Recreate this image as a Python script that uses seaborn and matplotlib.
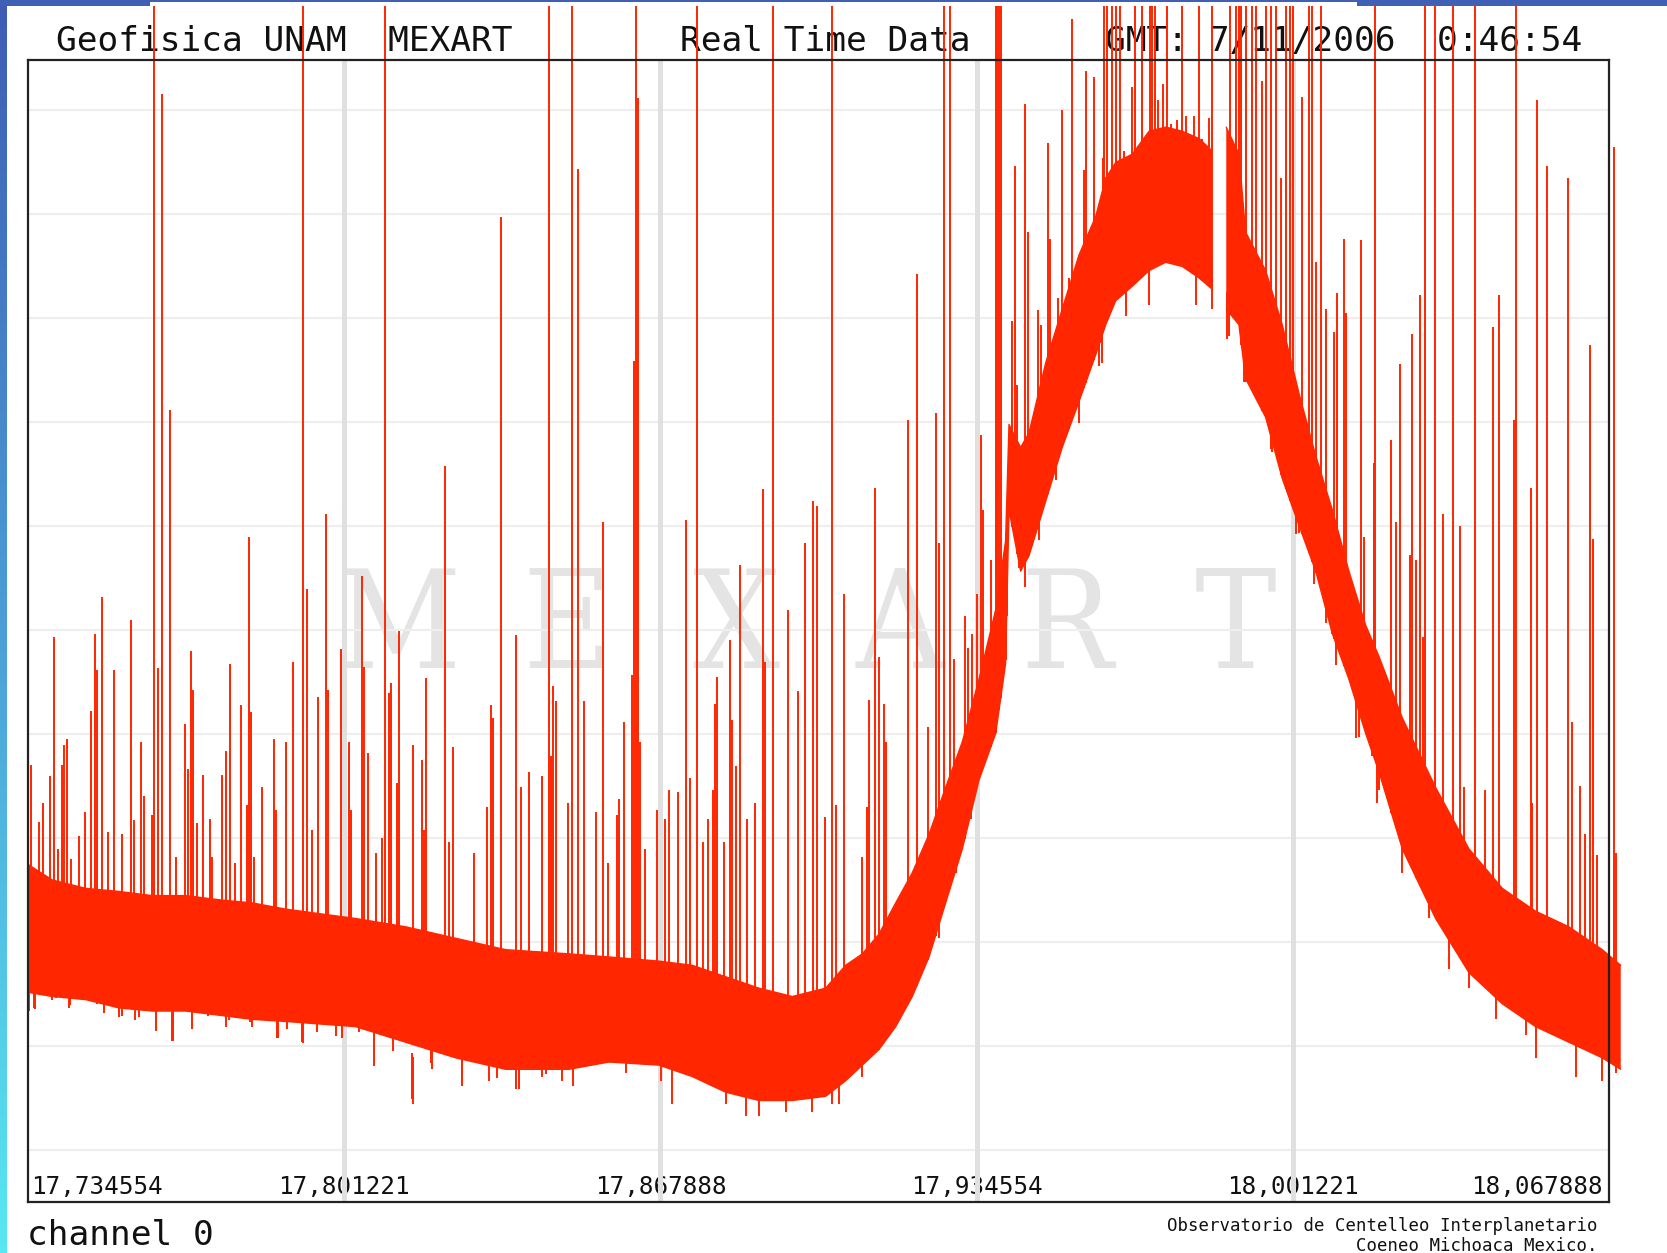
import numpy as np
import pandas as pd
import matplotlib
matplotlib.use("Agg")
import matplotlib.pyplot as plt
import seaborn as sns
from matplotlib.patches import Rectangle
from matplotlib.colors import LinearSegmentedColormap
from matplotlib.transforms import ScaledTranslation

# ---------------- data ----------------
# x in seconds from the start of the window (0 .. 1200 s); y in grid units
tick_seconds = [0, 240, 480, 720, 960, 1200]
tick_labels = ["17,734554", "17,801221", "17,867888", "17,934554", "18,001221", "18,067888"]
grid_levels = list(range(11))

env_s = [0, 18.5, 43.8, 69, 94.4, 119.7, 145, 170.2, 195.6, 248.7, 286.7, 324.6, 362.6,
         410.6, 441, 479, 504.2, 529.5, 554.8, 580.1, 605.4, 620.6, 633.3, 645.9, 658.6,
         671.2, 683.9, 696.5, 709.2, 721.8, 734.5, 742, 744.6, 753.4, 759.8, 772.4, 785,
         797.7, 810.4, 818, 825.6, 838.2, 850.9, 863.5, 876.1, 888.8, 898.9, 904, 909.5,
         919.1, 924.2, 939.4, 952, 964.7, 977.4, 990, 1002.6, 1015.3, 1025.4, 1043.1,
         1068.4, 1093.7, 1119, 1144.3, 1169.6, 1194.9, 1208.9]
env_hi = [2.75, 2.60, 2.52, 2.49, 2.45, 2.45, 2.41, 2.38, 2.32, 2.23, 2.15, 2.04, 1.93,
          1.89, 1.86, 1.82, 1.78, 1.67, 1.56, 1.48, 1.56, 1.78, 1.89, 2.08, 2.38,
          2.67, 3.04, 3.49, 3.93, 4.53, 5.20, 5.86, 6.98, 6.76, 6.90, 7.57, 8.09,
          8.61, 8.98, 9.35, 9.50, 9.58, 9.80, 9.84, 9.80, 9.73, 9.61, np.nan, 9.84,
          9.58, 8.83, 8.46, 7.94, 7.28, 6.68, 6.16, 5.57, 5.05, 4.75, 4.16,
          3.49, 2.90, 2.52, 2.30, 2.15, 1.93, 1.78]
env_lo = [1.52, 1.48, 1.45, 1.37, 1.34, 1.34, 1.30, 1.26, 1.24, 1.19, 1.04, 0.89, 0.78,
          0.78, 0.85, 0.82, 0.71, 0.56, 0.48, 0.48, 0.52, 0.67, 0.82, 0.97, 1.19,
          1.48, 1.86, 2.38, 2.90, 3.56, 4.01, 4.68, 6.16, 5.57, 5.72, 6.24, 6.76,
          7.20, 7.65, 7.94, 8.17, 8.31, 8.46, 8.54, 8.50, 8.39, 8.28, np.nan, 8.09,
          7.94, 7.42, 7.05, 6.46, 6.01, 5.57, 4.97, 4.53, 4.01, 3.64, 2.90,
          2.23, 1.71, 1.41, 1.19, 1.04, 0.89, 0.78]

spike_s = [2.0, 8.3, 11.4, 16.4, 19.5, 23.0, 25.6, 27.3, 29.3, 32.4, 38.7, 43.0, 47.8, 51.1,
           52.6, 55.9, 60.5, 65.3, 71.6, 77.9, 80.5, 85.5, 88.0, 93.9, 95.6, 98.4, 101.7,
           108.0, 112.6, 118.9, 121.2, 123.7, 125.5, 128.5, 133.1, 137.9, 139.4, 147.5,
           150.5, 153.6, 157.1, 161.4, 166.2, 167.7, 169.5, 171.5, 177.4, 187.0, 188.5,
           195.6, 200.9,
           208.7, 212.0, 215.3, 220.1, 226.2, 228.0, 237.3, 243.6, 245.4, 253.3, 254.8,
           257.8, 264.4, 268.9, 270.7, 274.0, 275.5, 280.3, 281.8, 292.4, 299.3, 300.8,
           302.3, 316.3, 319.5, 322.3, 338.7, 348.1, 351.4, 352.9, 359.0, 370.2, 374.4,
           380.3, 390.4, 395.4, 396.7, 398.7, 400.5, 410.1,
           412.9, 417.5, 422.2, 431.3, 436.4, 440.2, 447.3, 448.8, 452.4, 458.2, 460.0,
           461.7, 463.0, 464.7, 468.1, 477.2, 483.5, 486.8, 493.6, 499.2, 502.5, 507.5,
           512.3, 515.8, 519.9, 521.4, 523.2, 528.0, 532.8, 534.3, 537.4, 540.4, 545.5,
           551.8, 557.9, 559.4, 565.7, 577.1, 584.4, 589.7, 595.8, 599.1, 604.9, 610.0,
           613.5,
           619.3, 633.3, 636.6, 638.3, 642.9, 645.9, 649.7, 651.5, 668.2, 674.5, 682.9,
           688.9, 691.4, 695.2, 699.8, 703.1, 711.0, 713.5, 716.7, 720.5, 723.6, 725.1,
           730.7, 734.5, 735.8, 737.0, 738.3, 742.8, 747.1, 748.9, 750.9, 756.7, 758.7,
           766.8, 769.1, 774.2, 775.7, 781.8, 785.0, 790.1, 792.6, 796.7, 801.5, 802.8,
           809.1, 813.4, 816.2,
           816.7, 819.2, 823.0, 826.0, 828.6, 831.9, 838.2, 840.2, 845.8, 851.4, 853.4,
           855.2, 857.8, 861.6, 864.8, 867.3, 872.4, 876.1, 878.6, 884.9, 888.8, 891.3,
           896.4, 898.9, 912.6, 916.9, 918.9, 921.0, 924.2, 928.8, 931.9, 937.0, 939.4,
           943.2, 947.0, 951.3, 954.8, 958.1, 960.1, 967.2, 972.3, 974.8, 977.8, 981.2,
           985.5, 991.4, 993.9, 998.8, 1000.0, 1011.5, 1014.0, 1022.4,
           1021.5, 1034.8, 1038.2, 1041.1, 1048.9, 1050.2, 1053.8, 1056.5, 1058.8, 1060.1,
           1067.7, 1074.0, 1081.8, 1086.6, 1089.9, 1098.1, 1106.0, 1112.2, 1116.6, 1128.0,
           1129.5, 1140.7, 1141.9, 1145.2, 1153.2, 1169.0, 1172.2, 1178.3, 1181.8, 1185.9,
           1187.7, 1191.0, 1203.8, 1205.5]
spike_y = [3.71, 3.16, 3.34, 3.60, 4.94, 2.90, 3.71, 3.90, 3.96, 2.80, 3.02, 3.25, 4.23, 4.97,
           4.62, 5.32, 3.06, 4.62, 3.04, 5.10, 3.18, 3.93, 3.41, 3.23, 11.0, 4.64, 10.16,
           7.12, 2.82, 4.10, 3.67, 4.80, 4.43, 3.15, 3.61, 3.19, 2.82, 3.61,
           3.84, 4.68, 2.76, 4.28, 3.32, 5.90, 4.22, 2.82, 3.49, 3.96, 3.27,
           3.93, 4.70,
           11.0, 5.40, 3.08, 4.36, 6.12, 4.43, 4.82, 3.93, 3.27, 5.52, 4.65,
           3.82, 2.86, 3.00, 11.0, 4.40, 4.49, 3.53, 4.99, 3.90, 3.75, 3.08,
           4.54, 6.58, 2.97, 3.88, 2.86, 3.30, 4.28, 4.16, 8.98, 4.96, 3.49,
           3.64, 3.60, 11.0, 3.79, 4.47, 4.32, 3.34,
           11.0, 9.44, 4.32, 3.25, 6.04, 2.76, 3.23, 3.38, 4.12, 4.57, 7.59,
           11.0, 10.12, 3.93, 2.90, 3.27, 3.19, 3.47, 3.45, 6.06, 3.58, 11.0,
           2.97, 3.19, 3.47, 4.29, 4.55, 2.97, 4.91, 4.14, 3.70, 5.63, 3.19,
           3.34, 6.36, 4.70, 11.0, 5.20, 4.42, 5.84, 6.24, 6.20, 3.21, 11.0,
           3.32,
           5.35, 2.82, 3.30, 4.33, 6.37, 4.74, 4.29, 3.93, 7.02, 8.43, 4.07,
           7.09, 5.84, 11.0, 11.0, 4.73, 5.14, 4.83, 4.97, 5.35, 6.88, 6.16,
           5.68, 11.0, 11.0, 11.0, 11.0, 6.24, 7.98, 9.47, 7.36, 10.06, 8.83,
           8.08, 7.94, 9.69, 8.76, 8.20, 10.0, 8.39, 10.88, 8.46, 9.43, 10.38,
           10.32, 9.06, 9.54,
           11.0, 11.0, 11.0, 11.0, 11.0, 9.61, 10.23, 11.0, 11.0, 11.0, 11.0,
           11.0, 10.10, 10.25, 11.0, 9.87, 9.91, 11.0, 9.95, 9.95, 11.0, 9.73,
           9.93, 11.0, 11.0, 11.0, 11.0, 11.0, 11.0, 11.0, 11.0, 10.28, 11.0,
           11.0, 11.0, 9.35, 11.0, 11.0, 11.0, 10.13, 11.0, 11.0, 8.54, 11.0,
           8.09, 7.87, 8.24, 8.76, 8.05, 8.75, 5.90, 11.0,
           6.61, 6.83, 6.04, 7.56, 5.73, 7.85, 5.68, 8.23, 4.94, 11.0,
           11.0, 6.12, 11.0, 6.00, 3.49, 11.0, 3.47, 7.92, 8.23, 7.02,
           11.0, 6.37, 3.34, 10.10, 9.47, 9.35, 4.12, 3.50, 3.04, 7.74,
           5.88, 2.84, 9.65, 2.86]

dip_s = [0.8, 4.6, 5.6, 12.8, 18.5, 21.6, 31.1, 31.7, 47.7, 52.6, 57.8, 69.1, 71.0, 81.1,
         84.2, 96.9, 97.1, 109.5, 110.1, 124.7, 136.3, 150.0, 152.3, 168.3, 170.2, 181.3,
         189.2, 190.1, 196.8, 208.2, 208.9, 219.0, 233.6, 238.6, 251.0, 262.6, 277.2,
         291.7, 292.2, 306.2, 306.9, 329.4, 329.6, 349.9, 355.6, 370.2, 373.0, 390.4,
         393.4, 405.5, 413.7, 453.6, 480.2, 489.0, 529.5, 544.7, 554.8, 575.1, 595.3,
         610.5, 615.5, 633.3, 648.4, 663.6, 676.3, 691.4, 704.1, 711.7, 715.5, 729.4,
         742.0, 752.0, 756.7, 767.3, 780.0, 797.7, 812.9, 815.4, 833.2, 850.9, 886.3,
         898.9, 910.3, 911.6, 923.0, 924.2, 943.2, 944.4, 955.8, 962.2, 964.7, 976.1,
         977.4, 984.9, 990.0, 992.5, 1007.7, 1010.2, 1020.4, 1023.6, 1025.4, 1043.1,
         1063.3, 1078.5, 1093.7, 1114.0, 1136.7, 1144.3, 1174.7, 1194.9, 1205.0]
dip_y = [1.34, 1.37, 1.36, 1.52, 1.45, 1.47, 1.37, 1.40, 1.44, 1.41, 1.32, 1.28, 1.29, 1.25,
         1.28, 1.15, 1.16, 1.05, 1.05, 1.17, 1.29, 1.19, 1.25, 1.23, 1.19, 1.25,
         1.08, 1.08, 1.17, 1.04, 1.03, 1.14, 1.10, 1.08, 1.14, 0.81, 0.96,
         0.49, 0.45, 0.84, 0.78, 0.62, 0.67, 0.67, 0.70, 0.59, 0.59, 0.71,
         0.73, 0.67, 0.62, 0.74, 0.67, 0.45, 0.45, 0.33, 0.33, 0.37, 0.37,
         0.45, 0.45, 0.71, 1.26, 1.48, 1.69, 2.04, 2.67, 3.43, 3.19, 3.97,
         4.72, 5.60, 5.42, 5.87, 6.45, 6.99, 7.54, 7.57, 8.02, 8.13, 8.13,
         8.09, 7.80, 7.83, 7.39, 7.39, 6.74, 6.72, 6.33, 5.93, 5.94, 5.45,
         5.57, 5.07, 4.97, 4.67, 3.97, 3.98, 3.79, 3.34, 3.47, 2.67,
         2.23, 1.74, 1.56, 1.26, 1.11, 0.89, 0.71, 0.67, 0.74]

title_left = "Geofisica UNAM  MEXART"
title_mid = "Real Time Data"
title_right = "GMT: 7/11/2006  0:46:54"
channel_label = "channel 0"
footer_lines = ["Observatorio de Centelleo Interplanetario", "Coeneo Michoaca Mexico."]
watermark_letters = ["M", "E", "X", "A", "R", "T"]

# ---------------- style ----------------
W, H = 1667, 1253
RED = "#ff2600"
BLUE = "#4060b6"
MONO = ["DejaVu Sans Mono", "DejaVu Sans"]

sns.set_theme(style="white")
plt.rcParams["font.family"] = MONO

fig = plt.figure(figsize=(W / 100, H / 100), dpi=100)
fig.patch.set_facecolor("white")

top_px, bot_px = 59.5, 1202.4
ax = fig.add_axes([28 / W, 1 - bot_px / H, 1581 / W, (bot_px - top_px) / H])
ax.set_facecolor("white")
ax.set_xlim(tick_seconds[0], tick_seconds[-1])
ax.set_ylim(-0.5, 10.49)

# grid
for t in tick_seconds[1:-1]:
    ax.axvline(t, color="#e0e0e0", lw=3.6, zorder=1.2)
for g in grid_levels:
    ax.axhline(g, color="#eeeeee", lw=1.6, zorder=1.1)

# watermark
wm_x = [398.6, 566.6, 735.7, 899.4, 1066.3, 1235.3]
for ch, cx in zip(watermark_letters, wm_x):
    ax.text(cx / W, 1 - 667.6 / H, ch, transform=fig.transFigure, ha="center", va="baseline",
            fontsize=98, family="DejaVu Serif", fontstretch="condensed",
            color="#e4e4e4", zorder=1.0)

# signal body
s = np.array(env_s, float)
hi = np.array(env_hi, float)
lo = np.array(env_lo, float)
ax.fill_between(s, lo, hi, color=RED, lw=0, zorder=3, clip_on=False)
seg = np.cumsum(np.isnan(hi))
df = pd.DataFrame({"s": s, "hi": hi, "lo": lo, "seg": seg}).dropna()
sns.lineplot(data=df, x="s", y="hi", units="seg", estimator=None, color=RED, lw=1.0,
             ax=ax, zorder=3, legend=False, clip_on=False)
sns.lineplot(data=df, x="s", y="lo", units="seg", estimator=None, color=RED, lw=1.0,
             ax=ax, zorder=3, legend=False, clip_on=False)

valid = ~np.isnan(lo)
base = np.interp(spike_s, s[valid], lo[valid])
ax.vlines(spike_s, base, spike_y, colors=RED, lw=1.4, zorder=3, clip_on=False)
dy = np.array(dip_y, float)
ax.vlines(dip_s, dy, dy + 0.45, colors=RED, lw=1.4, zorder=3, clip_on=False)

ax.set_xlabel("")
ax.set_ylabel("")

# ticks
ax.set_xticks(tick_seconds)
ax.set_xticklabels(tick_labels, fontsize=17.5, family=MONO, color="#111111")
ax.tick_params(axis="x", length=0, pad=-19.5, direction="in")
lbls = ax.get_xticklabels()
lbls[0].set_ha("left")
lbls[-1].set_ha("right")
lbls[0].set_transform(lbls[0].get_transform() + ScaledTranslation(3 / 100, 0, fig.dpi_scale_trans))
lbls[-1].set_transform(lbls[-1].get_transform() + ScaledTranslation(-6 / 100, 0, fig.dpi_scale_trans))
ax.set_yticks([])

for sp in ax.spines.values():
    sp.set_color("#222222")
    sp.set_linewidth(1.6)
    sp.set_zorder(5)
    sp.set_visible(True)

# texts
def ftext(xpx, ypx, txt, **kw):
    ax.text(xpx / W, 1 - ypx / H, txt, transform=fig.transFigure, clip_on=False,
            zorder=2, color="#111111", va="baseline", family=MONO, **kw)

ftext(56, 51, title_left, fontsize=24.8, ha="left")
ftext(680, 51, title_mid, fontsize=24.8, ha="left")
ftext(1105, 51, title_right, fontsize=24.8, ha="left")
ftext(27, 1245, channel_label, fontsize=24.8, ha="left")
ftext(1597, 1231, footer_lines[0], fontsize=12.5, ha="right")
ftext(1597, 1251, footer_lines[1], fontsize=12.5, ha="right")

# page frame decorations
sax = fig.add_axes([0, 0, 6 / W, 1], zorder=10)
grad = np.linspace(0, 1, 256).reshape(-1, 1)
cmap = LinearSegmentedColormap.from_list("edge", ["#3e5cb4", "#4c9ed6", "#58e8f2"])
sax.imshow(grad, aspect="auto", cmap=cmap, extent=[0, 1, 0, 1], origin="upper")
sax.axis("off")

for (x0, w, h) in [(0, 150, 6), (150, 1207, 1.5), (1357, 310, 6)]:
    fig.add_artist(Rectangle((x0 / W, 1 - h / H), w / W, h / H, transform=fig.transFigure,
                             color=BLUE, lw=0, zorder=20))

fig.savefig("out.png", dpi=100, facecolor="white")
